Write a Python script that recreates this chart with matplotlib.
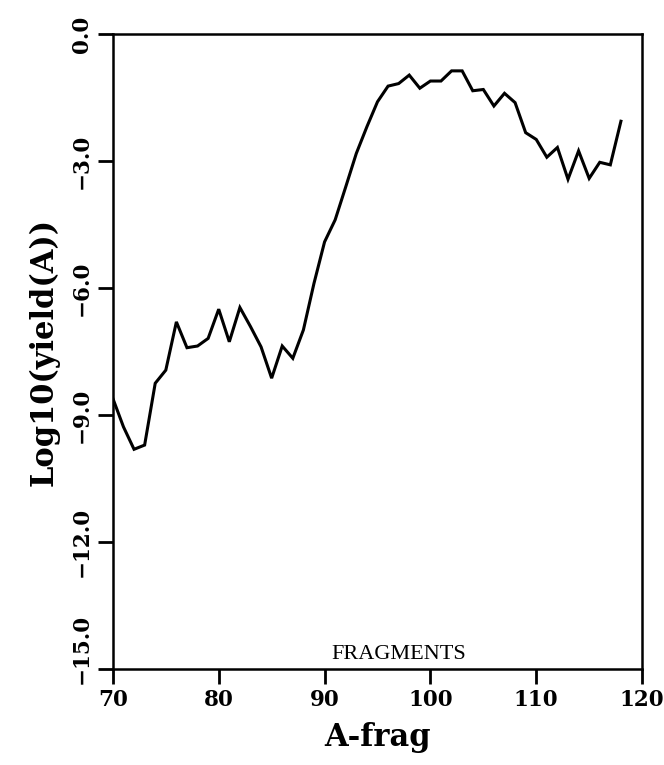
import numpy as np
import matplotlib
matplotlib.use('Agg')
import matplotlib.pyplot as plt
from matplotlib.transforms import ScaledTranslation

# fragment mass number and log10 of the yield
A_frag = [70, 71, 72, 73, 74, 75, 76, 77, 78, 79,
          80, 81, 82, 83, 84, 85, 86, 87, 88, 89,
          90, 91, 92, 93, 94, 95, 96, 97, 98, 99,
          100, 101, 102, 103, 104, 105, 106, 107, 108, 109,
          110, 111, 112, 113, 114, 115, 116, 117, 118]
log_yield = [-8.61, -9.28, -9.81, -9.71, -8.25, -7.94, -6.80, -7.41, -7.37, -7.19,
             -6.50, -7.27, -6.46, -6.91, -7.39, -8.13, -7.37, -7.66, -6.99, -5.89,
             -4.91, -4.39, -3.61, -2.82, -2.19, -1.60, -1.23, -1.17, -0.97, -1.28,
             -1.11, -1.11, -0.87, -0.87, -1.34, -1.31, -1.70, -1.40, -1.62, -2.33,
             -2.49, -2.91, -2.68, -3.43, -2.76, -3.41, -3.03, -3.09, -2.06]

xticks = [70, 80, 90, 100, 110, 120]
yticks = [0.0, -3.0, -6.0, -9.0, -12.0, -15.0]
yticklabels = ['0.0', '\u22123.0', '\u22126.0', '\u22129.0', '\u221212.0', '\u221215.0']

fig = plt.figure(figsize=(6.64, 7.65), dpi=100)
ax = fig.add_axes([0.170, 0.1255, 0.797, 0.830])

ax.plot(A_frag, log_yield, color='black', linewidth=2.2, solid_joinstyle='miter')

ax.set_xlim(70, 120)
ax.set_ylim(-15, 0)
ax.set_xticks(xticks)
ax.set_xticklabels([str(t) for t in xticks], fontfamily='DejaVu Serif',
                   fontweight='bold', fontsize=15.5)
ax.set_yticks(yticks)
ax.set_yticklabels(yticklabels, fontfamily='DejaVu Serif', fontweight='bold',
                   fontsize=15.5, rotation=90, va='center')

ax.tick_params(direction='out', length=10.5, width=2, pad=4)
for s in ax.spines.values():
    s.set_linewidth(1.8)

ax.set_xlabel('A-frag', fontfamily='DejaVu Serif', fontweight='bold',
              fontsize=22, labelpad=8)
ax.set_ylabel('Log10(yield(A))', fontfamily='DejaVu Serif', fontweight='bold',
              fontsize=22, labelpad=8)

ax.text(97, -14.88, 'FRAGMENTS', fontfamily='Liberation Serif', fontsize=16,
        ha='center', va='bottom')

# lift the bottom y label clear of the "70"
fig.canvas.draw()
for lab in ax.get_yticklabels():
    if lab.get_text() == '\u221215.0':
        lab.set_transform(lab.get_transform() +
                          ScaledTranslation(0, 0.2, fig.dpi_scale_trans))

fig.savefig('out.png', dpi=100)
